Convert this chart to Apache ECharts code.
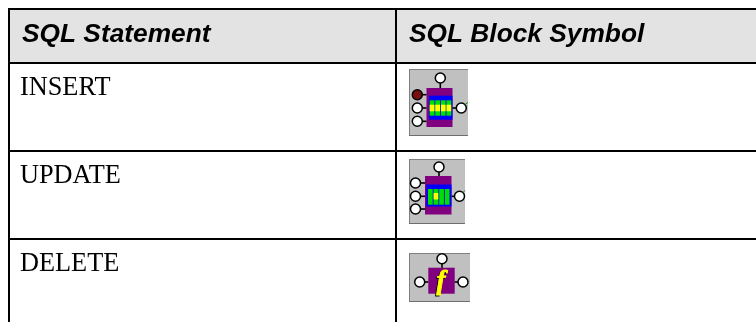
<!DOCTYPE html>
<html>
<head>
<meta charset="utf-8">
<style>html,body{margin:0;padding:0;background:#fff}#c{width:756px;height:322px}</style>
<script src="https://cdn.jsdelivr.net/npm/echarts@6/dist/echarts.min.js"></script>
</head>
<body>
<div id="c"></div>
<script>
const headers = ['SQL Statement', 'SQL Block Symbol'];
const statements = ['INSERT', 'UPDATE', 'DELETE'];
const symbols = ['insert', 'update', 'delete'];

// Layout of the table, in page pixels
const W = 756, H = 322;
const columnLines = [9, 396];
const rowLines = [9, 63, 151, 239];
const iconBoxes = {
  insert: {x: 409, y: 69, w: 59, h: 67},
  update: {x: 409, y: 159, w: 56, h: 65},
  delete: {x: 409, y: 253, w: 61, h: 49}
};
const iconParts = {
  insert: {
    purple: [17.5, 19, 26, 39], blue: [20, 26.7, 23.5, 24], bars: [20.7, 31.3, 4.7, 15.4, 5.6],
    yellowBars: [0, 1, 2, 3], yellowY: [35.7, 6.6],
    nodes: [[31.3, 9, '#fff'], [8.3, 25.7, '#7a0f12'], [8.3, 39, '#fff'], [8.3, 52.3, '#fff'], [52.3, 39, '#fff']],
    stubs: [[31.3, 9, 31.3, 19], [8.3, 25.7, 17.5, 25.7], [8.3, 39, 17.5, 39], [8.3, 52.3, 17.5, 52.3], [43.5, 39, 52.3, 39]],
    tick: [55.5, 36, 59, 33.5]
  },
  update: {
    purple: [16, 17, 26.5, 38.5], blue: [17.3, 25.5, 25.2, 22], bars: [19, 30, 4.7, 15.7, 5.6],
    yellowBars: [1], yellowY: [34, 6.5],
    nodes: [[30, 8, '#fff'], [6.5, 24, '#fff'], [6.5, 37.3, '#fff'], [6.5, 50, '#fff'], [50.5, 37.3, '#fff']],
    stubs: [[30, 8, 30, 17], [6.5, 24, 16, 24], [6.5, 37.3, 16, 37.3], [6.5, 50, 16, 50], [42.5, 37.3, 50.5, 37.3]],
    tick: [53.5, 34, 56, 31.5]
  },
  delete: {
    purple: [19.3, 14.7, 26.4, 26], blue: null, bars: null, yellowBars: [], yellowY: null,
    nodes: [[33, 5.7, '#fff'], [10.7, 29, '#fff'], [54, 29, '#fff']],
    stubs: [[33, 5.7, 33, 14.7], [10.7, 29, 19.3, 29], [45.7, 29, 54, 29]],
    tick: null
  }
};
const INK = '#000';

function renderHeader(params, api) {
  const i = params.dataIndex;
  const p0 = api.coord([columnLines[i], rowLines[0]]);
  return {
    type: 'text',
    style: {
      x: p0[0] + 13, y: p0[1] + 26, text: headers[i], fill: '#000',
      font: 'italic bold 26.3px "Liberation Sans"', verticalAlign: 'middle'
    }
  };
}

function renderFrame(params, api) {
  const tl = api.coord([columnLines[0], rowLines[0]]);
  const hb = api.coord([W, rowLines[1]]);
  const bottom = api.coord([0, H])[1];
  const kids = [{
    type: 'rect',
    shape: {x: tl[0], y: tl[1], width: hb[0] - tl[0], height: hb[1] - tl[1]},
    style: {fill: '#e3e3e3'}
  }];
  rowLines.forEach(y => {
    const py = api.coord([0, y])[1];
    kids.push({type: 'rect', shape: {x: tl[0] - 1, y: py - 1, width: W - tl[0] + 1, height: 2}, style: {fill: INK}});
  });
  columnLines.forEach(x => {
    const px = api.coord([x, 0])[0];
    kids.push({type: 'rect', shape: {x: px - 1, y: tl[1] - 1, width: 2, height: bottom - tl[1] + 1}, style: {fill: INK}});
  });
  return {type: 'group', children: kids};
}

function renderIcon(params, api) {
  const i = params.dataIndex;
  const name = symbols[i];
  const b = iconBoxes[name], s = iconParts[name];
  const o = api.coord([b.x, b.y]);
  const kids = [];
  const rect = (x, y, w, h, fill) => kids.push({type: 'rect', shape: {x: o[0] + x, y: o[1] + y, width: w, height: h}, style: {fill}});
  rect(0, 0, b.w, b.h, '#c0c0c0');
  rect(0, 0, b.w, 1, '#808080');
  rect(0, 0, 1, b.h, '#808080');
  rect(0, b.h - 1, b.w, 1, '#6e6e6e');
  rect(s.purple[0], s.purple[1], s.purple[2], s.purple[3], '#800080');
  if (s.blue) rect(s.blue[0], s.blue[1], s.blue[2], s.blue[3], '#0000ff');
  if (s.bars) {
    for (let k = 0; k < 4; k++) {
      const bx = s.bars[0] + k * s.bars[4];
      rect(bx, s.bars[1], s.bars[2], s.bars[3], '#00e000');
      if (s.yellowBars.includes(k)) rect(bx, s.yellowY[0], s.bars[2], s.yellowY[1], '#ffff00');
    }
  }
  s.stubs.forEach(l => kids.push({type: 'line', shape: {x1: o[0] + l[0], y1: o[1] + l[1], x2: o[0] + l[2], y2: o[1] + l[3]}, style: {stroke: '#000', lineWidth: 1.6}}));
  s.nodes.forEach(n => kids.push({type: 'circle', shape: {cx: o[0] + n[0], cy: o[1] + n[1], r: 5}, style: {fill: n[2], stroke: '#000', lineWidth: 1.5}}));
  if (s.tick) kids.push({type: 'line', shape: {x1: o[0] + s.tick[0], y1: o[1] + s.tick[1], x2: o[0] + s.tick[2], y2: o[1] + s.tick[3]}, style: {stroke: '#1a7a1a', lineWidth: 1}});
  if (name === 'delete') {
    kids.push({type: 'text', style: {x: o[0] + 31, y: o[1] + 30, text: 'f', fill: '#000', stroke: '#000', lineWidth: 0.8, font: 'italic bold 27px "Liberation Serif"', align: 'center', verticalAlign: 'middle'}});
    kids.push({type: 'text', style: {x: o[0] + 32, y: o[1] + 29, text: 'f', fill: '#ffff00', stroke: '#ffff00', lineWidth: 0.8, font: 'italic bold 27px "Liberation Serif"', align: 'center', verticalAlign: 'middle'}});
  }
  return {type: 'group', children: kids};
}

function renderStatement(params, api) {
  const i = params.dataIndex;
  const p = api.coord([columnLines[0], rowLines[i + 1]]);
  return {
    type: 'text',
    style: {x: p[0] + 11, y: p[1] + 25.5, text: statements[i], fill: '#000', font: '26.3px "Liberation Serif"', verticalAlign: 'middle'}
  };
}

const chart = echarts.init(document.getElementById('c'), null, {renderer: 'canvas'});
chart.setOption({
  animation: false,
  backgroundColor: '#fff',
  grid: {left: 0, top: 0, width: W, height: H},
  xAxis: {type: 'value', min: 0, max: W, show: false},
  yAxis: {type: 'value', min: 0, max: H, inverse: true, show: false},
  series: [
    {type: 'custom', silent: true, clip: false, data: [0], renderItem: renderFrame, coordinateSystem: 'cartesian2d', encode: {x: 0, y: 0}},
    {type: 'custom', silent: true, clip: false, z: 3, data: headers.map((h, i) => i), renderItem: renderHeader, encode: {x: 0, y: 0}},
    {type: 'custom', silent: true, clip: false, z: 3, data: statements.map((h, i) => i), renderItem: renderStatement, encode: {x: 0, y: 0}},
    {type: 'custom', silent: true, clip: false, z: 3, data: symbols.map((h, i) => i), renderItem: renderIcon, encode: {x: 0, y: 0}}
  ]
});
</script>
</body>
</html>
